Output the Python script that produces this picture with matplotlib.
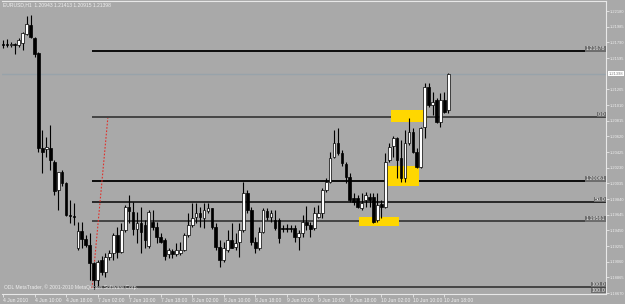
import matplotlib
matplotlib.use("Agg")
import matplotlib.pyplot as plt
from matplotlib.patches import Rectangle

# EURUSD H1, 4 Jun 2010 02:00 .. 10 Jun 19:00
opens = [
    1.21770, 1.21770, 1.21758, 1.21770, 1.21758, 1.21783, 1.21895, 1.22007, 1.21845, 1.21658,
    1.20475, 1.20463, 1.20475, 1.20301, 1.19952, 1.20177, 1.20040, 1.19641, 1.19629, 1.19230,
    1.19442, 1.19342, 1.19268, 1.19044, 1.18832, 1.19081, 1.18932, 1.19118, 1.19168, 1.19392,
    1.19181, 1.19454, 1.19741, 1.19679, 1.19467, 1.19542, 1.19517, 1.19255, 1.19554, 1.19492,
    1.19367, 1.19330, 1.19156, 1.19193, 1.19156, 1.19168, 1.19205, 1.19392, 1.19517, 1.19616,
    1.19666, 1.19604, 1.19691, 1.19728, 1.19492, 1.19243, 1.19081, 1.19205, 1.19330, 1.19243,
    1.19305, 1.19454, 1.19915, 1.19703, 1.19305, 1.19230, 1.19430, 1.19691, 1.19616, 1.19579,
    1.19579, 1.19479, 1.19479, 1.19479, 1.19479, 1.19367, 1.19417, 1.19554, 1.19517, 1.19479,
    1.19616, 1.19666, 1.19952, 1.20052, 1.20363, 1.20538, 1.20413, 1.20276, 1.20114, 1.19853,
    1.19853, 1.19728, 1.19828, 1.19865, 1.19865, 1.19579, 1.19778, 1.19741, 1.20326, 1.20500,
    1.20600, 1.20351, 1.20102, 1.20538, 1.20675, 1.20426, 1.20239, 1.20737, 1.21235, 1.21011,
    1.21073, 1.20799, 1.21073, 1.20943]
highs = [
    1.21820, 1.21832, 1.21795, 1.21783, 1.21845, 1.21920, 1.22119, 1.22131, 1.21857, 1.21671,
    1.20699, 1.20612, 1.20762, 1.20326, 1.20177, 1.20201, 1.20052, 1.19828, 1.19791, 1.19554,
    1.19554, 1.19392, 1.19417, 1.19056, 1.19081, 1.19131, 1.19168, 1.19205, 1.19417, 1.19492,
    1.19542, 1.19766, 1.19890, 1.19803, 1.19679, 1.19741, 1.19579, 1.19703, 1.19703, 1.19554,
    1.19417, 1.19355, 1.19230, 1.19218, 1.19293, 1.19305, 1.19417, 1.19666, 1.19791, 1.19791,
    1.19741, 1.19791, 1.19791, 1.19728, 1.19542, 1.19330, 1.19305, 1.19454, 1.19542, 1.19417,
    1.19542, 1.20052, 1.19952, 1.19741, 1.19367, 1.19492, 1.19728, 1.19728, 1.19703, 1.19703,
    1.19604, 1.19517, 1.19529, 1.19517, 1.19517, 1.19454, 1.19641, 1.19753, 1.19554, 1.19741,
    1.19766, 1.19977, 1.20102, 1.20426, 1.20699, 1.20724, 1.20450, 1.20301, 1.20164, 1.19915,
    1.19890, 1.19915, 1.19928, 1.19915, 1.19915, 1.19915, 1.19828, 1.20413, 1.20538, 1.20625,
    1.20612, 1.20575, 1.20699, 1.20849, 1.20724, 1.20475, 1.20737, 1.21285, 1.21285, 1.21173,
    1.21098, 1.21160, 1.21173, 1.21413]
lows = [
    1.21720, 1.21733, 1.21733, 1.21646, 1.21733, 1.21695, 1.21882, 1.21845, 1.21608, 1.20426,
    1.20164, 1.20363, 1.20201, 1.19890, 1.19703, 1.20002, 1.19629, 1.19542, 1.19517, 1.19205,
    1.19230, 1.19243, 1.18832, 1.18720, 1.18745, 1.18894, 1.18869, 1.19081, 1.19081, 1.19106,
    1.19168, 1.19430, 1.19542, 1.19392, 1.19293, 1.19168, 1.19230, 1.19230, 1.19454, 1.19293,
    1.19293, 1.19081, 1.19106, 1.19106, 1.19131, 1.19143, 1.19193, 1.19367, 1.19492, 1.19542,
    1.19492, 1.19479, 1.19666, 1.19467, 1.19205, 1.18994, 1.19056, 1.19181, 1.19230, 1.19205,
    1.19118, 1.19430, 1.19666, 1.19268, 1.19168, 1.19205, 1.19417, 1.19579, 1.19554, 1.19454,
    1.19293, 1.19430, 1.19430, 1.19430, 1.19305, 1.19205, 1.19367, 1.19454, 1.19367, 1.19454,
    1.19604, 1.19604, 1.19928, 1.20040, 1.20351, 1.20388, 1.20251, 1.20040, 1.19803, 1.19766,
    1.19728, 1.19703, 1.19741, 1.19741, 1.19542, 1.19554, 1.19604, 1.19728, 1.20301, 1.20363,
    1.20102, 1.20052, 1.20052, 1.20513, 1.20413, 1.20226, 1.20226, 1.20600, 1.20986, 1.20886,
    1.20787, 1.20737, 1.20911, 1.20915]
closes = [
    1.21758, 1.21758, 1.21770, 1.21758, 1.21820, 1.21907, 1.22019, 1.21857, 1.21646, 1.20475,
    1.20426, 1.20488, 1.20326, 1.19940, 1.20177, 1.20040, 1.19641, 1.19629, 1.19616, 1.19442,
    1.19342, 1.19268, 1.19044, 1.18832, 1.19056, 1.18932, 1.19118, 1.19168, 1.19392, 1.19181,
    1.19454, 1.19741, 1.19691, 1.19467, 1.19542, 1.19430, 1.19330, 1.19679, 1.19492, 1.19367,
    1.19305, 1.19131, 1.19205, 1.19156, 1.19205, 1.19205, 1.19392, 1.19517, 1.19604, 1.19666,
    1.19616, 1.19703, 1.19728, 1.19492, 1.19243, 1.19081, 1.19230, 1.19330, 1.19230, 1.19293,
    1.19454, 1.19915, 1.19703, 1.19305, 1.19230, 1.19430, 1.19703, 1.19616, 1.19666, 1.19479,
    1.19355, 1.19467, 1.19467, 1.19467, 1.19367, 1.19417, 1.19554, 1.19517, 1.19467, 1.19666,
    1.19666, 1.19952, 1.20052, 1.20351, 1.20538, 1.20413, 1.20289, 1.20114, 1.19828, 1.19803,
    1.19741, 1.19791, 1.19890, 1.19828, 1.19554, 1.19766, 1.19741, 1.20301, 1.20488, 1.20600,
    1.20326, 1.20102, 1.20538, 1.20675, 1.20426, 1.20239, 1.20724, 1.21235, 1.21011, 1.21048,
    1.20799, 1.21073, 1.20924, 1.21398]

# time labels, one every 8 bars
time_labels = ['4 Jun 2010', '4 Jun 10:00', '4 Jun 18:00', '7 Jun 02:00', '7 Jun 10:00',
               '7 Jun 18:00', '8 Jun 02:00', '8 Jun 10:00', '8 Jun 18:00', '9 Jun 02:00',
               '9 Jun 10:00', '9 Jun 18:00', '10 Jun 02:00', '10 Jun 10:00', '10 Jun 18:00']

# horizontal levels (fibo + price lines) and their labels
level_prices = [1.21678, 1.20861, 1.20061, 1.19803, 1.19561, 1.18745]
level_labels = ['1.21678', '0.0', '1.20061', '50.0', '1.19561', '100.0']
level_colors = ['black', '#3c3c3c', 'black', '#1e1e1e', '#3c3c3c', '#3c3c3c']

# fibo anchor (bar index, price) low -> high
fib_x = [22.6, 26.6]
fib_y = [1.18732, 1.20849]

# yellow zones: (bar from, bar to, price low, price high)
zones = [(98.5, 107.6, 1.20799, 1.20949),
         (97.5, 105.6, 1.20002, 1.20251),
         (90.4, 100.5, 1.19504, 1.19616)]

bid = 1.21398
title = 'EURUSD,H1  1.20943 1.21413 1.20915 1.21398'

bg = '#a9a9a9'
fg = '#eeeeee'
fam = ['Liberation Sans Narrow', 'Liberation Sans', 'DejaVu Sans']
fs = 3.6

fig = plt.figure(figsize=(6.25, 3.04), dpi=100, facecolor=bg)
ax = fig.add_axes([2/625, 10/304, 604/625, 293/304], facecolor=bg)

ax.set_xlim(-0.25, 153.0)
ax.set_ylim(1.18658, 1.22306)

# bid line
ax.axhline(bid, color='#98a3aa', lw=1.0, zorder=1)

# levels
for p, c in zip(level_prices, level_colors):
    ax.hlines(p, fib_x[0], 153.0, color=c, lw=1.3, zorder=1.5)
for p, lab in zip(level_prices, level_labels):
    ax.text(152.8, p, lab, ha='right', va='bottom', fontsize=3.9, color=fg,
            family=fam, zorder=6,
            bbox=dict(facecolor='#6e6e6e', edgecolor='none', pad=0.3))
ax.text(152.8, 1.18670, '100.0', ha='right', va='bottom', fontsize=3.9, color=fg,
        family=fam, zorder=6, bbox=dict(facecolor='#6e6e6e', edgecolor='none', pad=0.3))

for x0, x1, y0, y1 in zones:
    ax.add_patch(Rectangle((x0, y0), x1 - x0, y1 - y0, facecolor='#ffd700',
                           edgecolor='none', zorder=2))

ax.plot(fib_x, fib_y, color='#e0302a', lw=0.8, ls=(0, (1.5, 1.5)), zorder=2.5)

# candles
for i in range(len(opens)):
    o, h, l, c = opens[i], highs[i], lows[i], closes[i]
    ax.vlines(i, l, h, color='black', lw=0.8, zorder=3)
    lo = min(o, c)
    hgt = max(abs(c - o), 0.00002)
    col = 'white' if c >= o else 'black'
    ax.add_patch(Rectangle((i - 0.34, lo), 0.68, hgt, facecolor=col,
                           edgecolor='black', lw=0.5, zorder=4))

# axes styling
ax.spines['left'].set_visible(False)
for s in ['top', 'right', 'bottom']:
    ax.spines[s].set_color('#e8e8e8')
    ax.spines[s].set_linewidth(0.8)

yt = [1.18670 + k*0.00195 for k in range(19) if k != 14]
ax.yaxis.tick_right()
ax.set_yticks(yt)
ax.set_yticklabels(['%.5f' % v for v in yt], family=fam)
ax.set_xticks(range(0, 8*len(time_labels), 8))
ax.set_xticklabels(time_labels, family=fam, ha='left')
ax.tick_params(axis='both', direction='out', length=2.5, width=0.6, color='#e8e8e8',
               labelcolor=fg, labelsize=fs, pad=1)
ax.tick_params(axis='x', pad=0.5)
ax.tick_params(axis='y', labelsize=2.9, pad=0.5, length=2)

# current price tag
ax.text(1.0 + 2.5/604, bid, '1.21398', transform=ax.get_yaxis_transform(), ha='left',
        va='center', fontsize=2.9, color='#808080', family=fam, clip_on=False,
        bbox=dict(facecolor='white', edgecolor='none', pad=0.4))

fig.text(3/625, 1 - 5/304, title, ha='left', va='center', fontsize=fs, color=fg, family=fam)
ax.text(0.004, 0.012, 'ODL MetaTrader, \u00a9 2001-2010 MetaQuotes Software Corp.',
        transform=ax.transAxes, ha='left', va='bottom', fontsize=fs, color=fg, family=fam)

fig.savefig('out.png', dpi=100, facecolor=bg)
